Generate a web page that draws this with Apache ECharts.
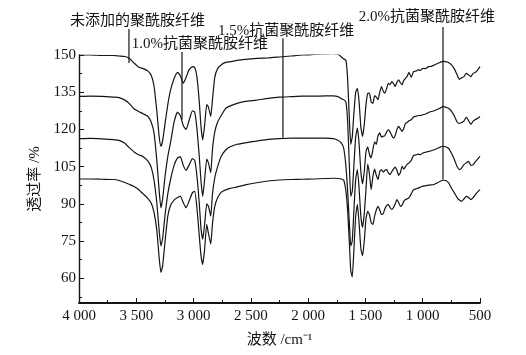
<!DOCTYPE html>
<html>
<head>
<meta charset="utf-8">
<style>
html,body{margin:0;padding:0;background:#fff;}
#chart{width:526px;height:355px;}
</style>
<script src="https://cdn.jsdelivr.net/npm/echarts@6/dist/echarts.min.js"></script>
</head>
<body>
<div id="chart"></div>
<script>
// wavenumbers (cm^-1)
const wavenumbers = [4000,3900,3800,3700,3650,3600,3560,3520,3480,3440,3400,3370,3345,3320,3300,3285,3270,3250,3225,3200,3170,3140,3115,3090,3065,3040,3010,2990,2970,2950,2935,2920,2905,2885,2870,2850,2835,2815,2790,2760,2720,2680,2620,2550,2450,2350,2250,2150,2050,1950,1850,1780,1740,1710,1690,1670,1655,1640,1628,1615,1600,1585,1570,1555,1540,1525,1510,1495,1480,1465,1450,1435,1420,1405,1390,1375,1360,1345,1330,1315,1300,1285,1270,1255,1240,1225,1210,1195,1180,1165,1150,1135,1120,1100,1080,1060,1040,1020,1000,975,950,925,900,875,850,825,800,775,750,725,700,680,660,640,620,600,580,560,540,520,500];

const untreated = [150.0,150.0,149.8,149.8,149.6,149.4,148.6,146.8,145.2,144.5,143.6,141.8,137.5,127,117,113.2,115.5,122,130,136,140.5,143,141.5,138.6,141,144,145.3,145,141,131,121,115.8,121,130,129,125.2,132,141,144.5,146,147,147.3,147.8,148.2,148.6,148.8,149.2,149.6,150,150.2,150.4,150.5,150.3,149.2,148.4,147.8,140,124,114,117,127,135,136.6,131,121,117.2,122,130,134.5,134.6,131,130.5,133.5,133,132,135,137.3,135.5,134.6,136.5,138.6,138,139.3,138.5,137.3,139,140,138.8,138,139.8,140.6,141.5,143,141,143.3,143.5,144,143.8,144.6,144.5,145.3,145.4,146,146.5,147,147.4,147.3,147,146.1,144.5,142,140.2,140.8,141.3,142.6,142,141.3,142.6,143,144,145.3];

const fiber10 = [133.3,133.4,133.3,133.0,132.8,131.8,130.4,128.3,127.2,126.3,125.3,123.0,118.5,107,95,88.4,92,100.6,109,115,123,127,125.5,121.5,120,123.5,127.5,127,120,109,99,93,99,108,106.5,102.5,112,119,123,125.5,128.5,129.5,130.5,131.3,131.8,132.5,133,133.2,133.4,133.4,133.5,133.5,133.2,132.4,132,131,123,105,93,95,106,117,120.5,114,103,98,103,111,113,110,108.6,111.8,115,114,117.5,118.6,117,117.2,117.5,119,119.9,119,117.5,116.5,117.5,120,121.2,120.2,119.2,120.5,122.5,122.8,123.5,123.9,125,125.3,125.6,125.6,125.9,126.2,126.8,127.2,127.5,128,128.5,129.2,129,128.5,127.4,125.5,123,122.4,122.8,123.3,125,123.5,122,123.3,124,124.5,125.2];

const fiber15 = [116.3,116.4,116.2,115.9,115.6,114.4,112.6,110.9,109.8,109,107.3,104.8,99.5,90,79,73,76,85,94,100,105.5,108.5,109,105.5,103.5,105.5,108.2,107.5,101,90,80,75.7,81,90,89,85,94,100.5,105,109,111.7,113,114,114.6,115.3,116,116.3,116.5,116.5,116.5,116.5,116.3,115.6,114.5,112.5,105,95,82,73,75,88,100,103.8,96,85,80.5,86,96,106,102,95.7,101,104,101.5,99.8,103,103.8,102.8,103.5,103.8,102.5,101.8,103,104,104.8,103.5,101.5,102.5,105.1,104,105,106,106.5,107.5,109.5,109.7,110,109.8,110.5,110.8,111.1,111.4,111.8,112.3,112.8,113.2,113,112.4,110.5,108,105,103.8,104.5,105.8,106.5,107.1,105.5,105.8,107,108,109.1];

const fiber20 = [100,100,99.9,99.8,99.4,98.6,97.8,97,95.8,94,92.2,90.3,86.5,79,68,62.3,65,74.3,85,89.5,91.5,92.5,93,90.5,88.4,91,94.5,95,88,77,69,65.6,71,81.7,78,73.7,82,89,92.4,94.6,95.6,96.2,96.8,97.6,98.5,99.2,99.6,99.8,99.9,100,100.2,100.3,100.2,100,99.6,95,87,74,63,60.5,72,85,89.7,82,72,69,75,84,87,85.7,82.4,81.7,85,87.5,89,87.5,85.7,86,88,89.3,89.7,88.5,87.7,88.5,90,91.7,90.5,89,89.5,91,91.7,92,92.4,94,95.7,96,96.3,96.7,97.1,97.3,97.5,97.6,97.8,98.4,99,99.5,99.4,98.5,96.4,94.5,92.5,91.5,91,92,93,92.5,91.7,92.5,93.7,94.8,95.7];

const xTickValues = [4000,3500,3000,2500,2000,1500,1000,500];
const xTickLabels = ['4 000','3 500','3 000','2 500','2 000','1 500','1 000','500'];
const yTickValues = [60,75,90,105,120,135,150];
const yMinorTickValues = [52.5,67.5,82.5,97.5,112.5,127.5,142.5];

// annotations: label text, leader line (wavenumber, top value, bottom value), text centre
const annLabels = ['未添加的聚酰胺纤维','1.0%抗菌聚酰胺纤维','1.5%抗菌聚酰胺纤维','2.0%抗菌聚酰胺纤维'];
const annLineX = [3564,3101,2220,823];
const annLineTop = [160.5,151.2,156.8,161.3];
const annLineBottom = [146.8,124.0,116.6,99.8];
const annTextX = [3489,2944,2193,963];
const annTextY = [163.7,154.6,159.6,165.3];

const serif = "'Liberation Serif','Noto Sans CJK SC',serif";
const ink = '#141414';

const toPairs = vals => wavenumbers.map((w,i)=>[w, vals[i]]);
const mkSeries = (name, vals) => ({
  name, type:'line', data: toPairs(vals), showSymbol:false, smooth:0.15,
  lineStyle:{color:ink, width:1.2}, xAxisIndex:0, yAxisIndex:0, silent:true
});

const chart = echarts.init(document.getElementById('chart'), null, {renderer:'canvas'});
const option = {
  animation:false,
  backgroundColor:'#fff',
  grid:{left:79, right:46, top:55, bottom:52, containLabel:false},
  xAxis:{
    type:'value', inverse:true, min:500, max:4000, interval:500,
    name:'波数 /cm⁻¹', nameLocation:'middle', nameGap:30,
    nameTextStyle:{fontFamily:serif, fontSize:15, color:ink},
    axisLine:{show:true, lineStyle:{color:ink, width:1.8}},
    axisTick:{show:true, inside:true, length:5, lineStyle:{color:ink, width:1}},
    minorTick:{show:true, splitNumber:2, length:3, lineStyle:{color:ink, width:1}},
    splitLine:{show:false},
    axisLabel:{fontFamily:serif, fontSize:15, color:ink, margin:6, showMinLabel:true, showMaxLabel:true,
      formatter: v => { const i = xTickValues.indexOf(v); return i>=0 ? xTickLabels[i] : ''; }}
  },
  yAxis:[{
    type:'value', min:50, max:150,
    name:'透过率 /%', nameLocation:'middle', nameGap:36, nameRotate:90,
    nameTextStyle:{fontFamily:serif, fontSize:15, color:ink},
    axisLine:{show:true, lineStyle:{color:ink, width:1.4}},
    axisTick:{show:true, inside:true, length:5, customValues:yTickValues, lineStyle:{color:ink, width:1}},
    axisLabel:{fontFamily:serif, fontSize:15, color:ink, margin:3, customValues:yTickValues},
    splitLine:{show:false}
  },{
    type:'value', min:50, max:150, position:'left', offset:0,
    axisLine:{show:false},
    axisTick:{show:true, inside:true, length:3, customValues:yMinorTickValues, lineStyle:{color:ink, width:1}},
    axisLabel:{show:false},
    splitLine:{show:false}
  }],
  series:[
    mkSeries('未添加的聚酰胺纤维', untreated),
    mkSeries('1.0%抗菌聚酰胺纤维', fiber10),
    mkSeries('1.5%抗菌聚酰胺纤维', fiber15),
    mkSeries('2.0%抗菌聚酰胺纤维', fiber20)
  ]
};
chart.setOption(option);

const graphics = [];
annLabels.forEach((label, i) => {
  const p1 = chart.convertToPixel({gridIndex:0}, [annLineX[i], annLineTop[i]]);
  const p2 = chart.convertToPixel({gridIndex:0}, [annLineX[i], annLineBottom[i]]);
  const pt = chart.convertToPixel({gridIndex:0}, [annTextX[i], annTextY[i]]);
  graphics.push({type:'line', silent:true, z:10,
    shape:{x1:p1[0], y1:p1[1], x2:p2[0], y2:p2[1]},
    style:{stroke:ink, lineWidth:1.2}});
  graphics.push({type:'text', silent:true, z:10, x:pt[0], y:pt[1],
    style:{text:label, align:'center', verticalAlign:'middle', fill:ink,
      font:"15px 'Liberation Serif','Noto Sans CJK SC',serif"}});
});
chart.setOption({graphic:graphics});
</script>
</body>
</html>
